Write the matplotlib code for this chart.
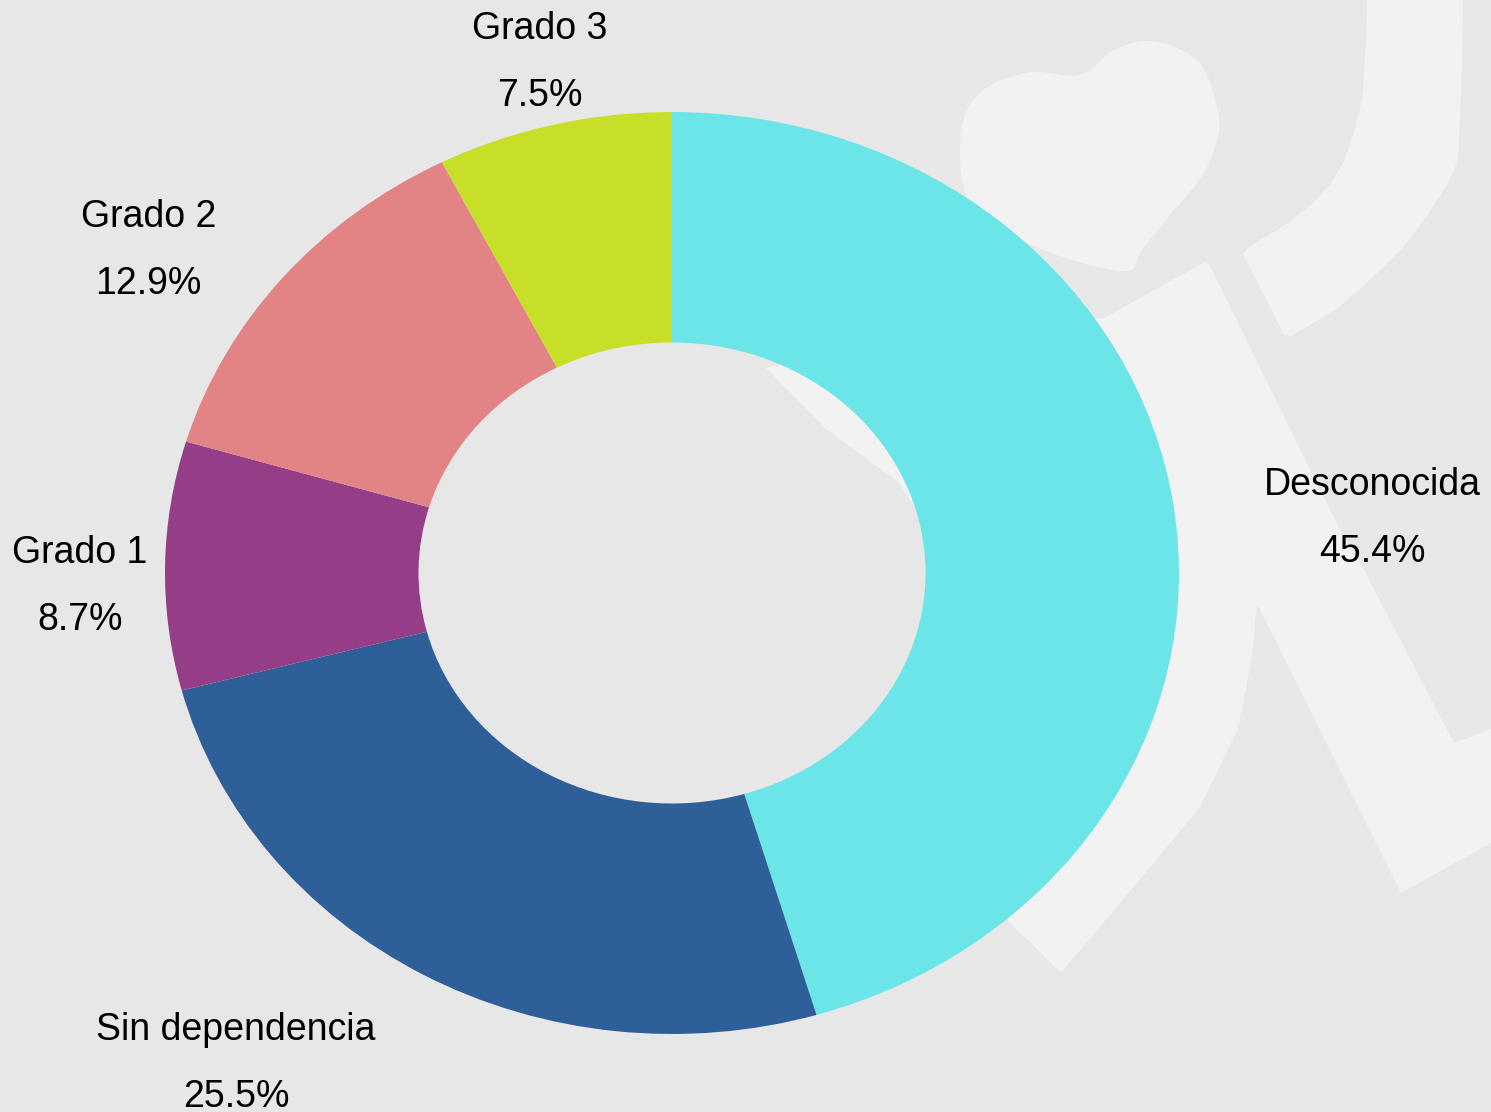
import numpy as np
import matplotlib.pyplot as plt
from matplotlib.patches import Polygon

# data
categories = ["Desconocida", "Sin dependencia", "Grado 1", "Grado 2", "Grado 3"]
shares = [45.4, 25.5, 8.7, 12.9, 7.5]
colors = ["#6ce5e8", "#2e5f98", "#953d87", "#e28385", "#c7df29"]

# label anchors (center x, y of first line) in ellipse units
label_xy = [(1.381, 0.190), (-0.860, -0.992), (-1.168, 0.043), (-1.033, 0.772), (-0.260, 1.179)]

BG = "#e7e7e7"
MARK = "#f2f2f2"
W, H = 1491, 1112


def smooth_closed(pts, n=12):
    # catmull-rom through the outline points, just to round off the watermark
    p = np.array(pts, dtype=float)
    out = []
    m = len(p)
    for i in range(m):
        p0, p1, p2, p3 = p[i - 1], p[i], p[(i + 1) % m], p[(i + 2) % m]
        for t in np.linspace(0, 1, n, endpoint=False):
            t2, t3 = t * t, t * t * t
            out.append(0.5 * (2 * p1 + (-p0 + p2) * t + (2 * p0 - 5 * p1 + 4 * p2 - p3) * t2
                              + (-p0 + 3 * p1 - 3 * p2 + p3) * t3))
    return np.array(out)


fig = plt.figure(figsize=(W / 100, H / 100), dpi=100, facecolor=BG)

# watermark drawn in pixel coordinates behind the chart
bg = fig.add_axes([0, 0, 1, 1])
bg.set_xlim(0, W)
bg.set_ylim(H, 0)
bg.axis("off")

heart = [(1128, 271), (1075, 261), (1027, 243), (989, 221), (965, 193), (960, 150),
         (966, 112), (989, 86), (1032, 72), (1080, 75),
         (1114, 50), (1147, 41), (1181, 50), (1205, 71),
         (1219, 118), (1214, 150), (1200, 179), (1171, 214), (1142, 250)]
arm = [(1367, 0), (1463, 0), (1462, 60), (1460, 120), (1458, 161), (1447, 185),
       (1434, 205), (1418, 228), (1401, 250), (1370, 280), (1339, 307), (1310, 325),
       (1291, 336), (1284, 335), (1243, 254), (1248, 248), (1291, 221), (1312, 204),
       (1329, 186), (1343, 163), (1353, 136), (1360, 110), (1363, 89), (1366, 40)]
body = [(1205, 262), (1104, 318), (900, 340), (766, 368), (826, 429), (898, 482),
        (950, 560), (1008, 921), (1061, 973), (1147, 871), (1200, 807), (1238, 729),
        (1252, 657), (1257, 604), (1401, 893), (1491, 843), (1491, 729), (1454, 743),
        (1363, 568), (1343, 536), (1209, 264)]
bg.add_patch(Polygon(smooth_closed(heart), closed=True, facecolor=MARK, edgecolor="none"))
bg.add_patch(Polygon(arm, closed=True, facecolor=MARK, edgecolor="none"))
bg.add_patch(Polygon(body, closed=True, facecolor=MARK, edgecolor="none"))

# donut chart, stretched to an ellipse
ax = fig.add_axes([165 / W, 78 / H, 1014 / W, 922 / H])
ax.patch.set_alpha(0)
ax.pie(shares, colors=colors, startangle=90, counterclock=False,
       wedgeprops=dict(width=0.5, linewidth=0))
ax.set_aspect("auto")
ax.set_xlim(-1, 1)
ax.set_ylim(-1, 1)

line_gap = 67 / 461
for name, val, (x, y) in zip(categories, shares, label_xy):
    ax.text(x, y, name, ha="center", va="center", fontsize=27,
            family="Liberation Sans", color="black", clip_on=False)
    ax.text(x, y - line_gap, f"{val}%", ha="center", va="center", fontsize=27,
            family="Liberation Sans", color="black", clip_on=False)

fig.savefig("out.png", dpi=100, facecolor=BG)
